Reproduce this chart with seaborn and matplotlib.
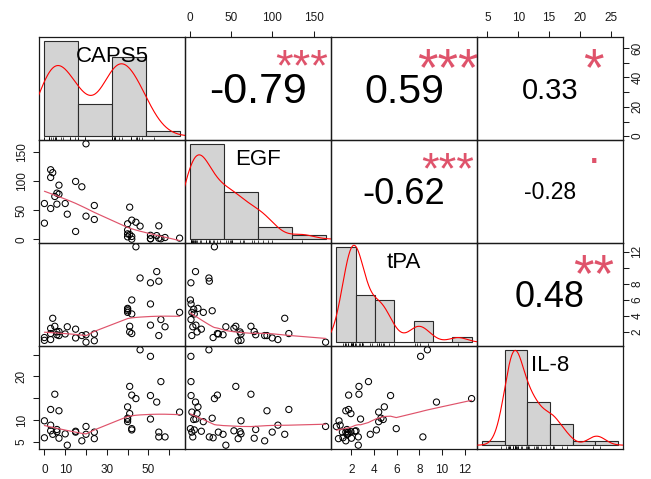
import numpy as np
import pandas as pd
import matplotlib
matplotlib.use("Agg")
import matplotlib.pyplot as plt
import seaborn as sns
from matplotlib.font_manager import FontProperties
from matplotlib.textpath import TextPath, TextToPath
from matplotlib.transforms import offset_copy

# ---------------- data ----------------
caps5 = [44, 46, 51, 51, 51, 54, 55, 55, 56, 58, 65, 40, 40, 40, 40, 41, 41, 42, 42, 42,
         20, 20, 3, 4, 3, 7, 15, 18, 0, 0, 3, 6, 24, 10, 5, 6, 7, 11, 15, 24]
egf = [29.5, 22.8, 0.9, 1.1, 7.0, 6.5, 23.3, 2.0, 1.0, 3.2, 2.1, 9.5, 26.8, 16.0, 4.3, 55.5, 8.4, 0.3, 33.1, 5.0,
       164.7, 40.0, 120.0, 115.0, 106.7, 93.4, 99.8, 90.6, 61.8, 27.9, 53.2, 60.7, 58.4, 61.8, 73.9, 79.7, 77.9, 43.4, 13.6, 34.3]
tpa = [12.6, 8.7, 8.1, 5.45, 2.8, 9.5, 8.3, 1.5, 3.5, 2.6, 4.4, 4.9, 4.6, 4.4, 4.8, 2.66, 1.95, 5.95, 1.75, 4.2,
       0.67, 1.6, 1.75, 3.66, 1.0, 1.5, 1.2, 1.5, 0.9, 1.25, 2.4, 1.95, 0.85, 1.7, 2.66, 1.6, 2.0, 2.6, 2.3, 1.7]
il8 = [14.9, 26.1, 24.6, 15.6, 10.2, 14.1, 6.1, 7.2, 18.8, 6.1, 11.8, 13.0, 10.4, 9.6, 10.1, 17.7, 11.45, 8.0, 15.7, 7.7,
       8.5, 6.7, 12.4, 6.7, 8.8, 12.1, 7.2, 5.2, 9.8, 5.9, 7.5, 7.3, 5.7, 6.8, 15.9, 7.8, 5.8, 4.2, 7.4, 7.2]
names = ["CAPS5", "EGF", "tPA", "IL-8"]

# upper-triangle panels (row, col) with the printed coefficient and stars
cor_pairs = [(0, 1), (0, 2), (0, 3), (1, 2), (1, 3), (2, 3)]
cor_text = ["-0.79", "0.59", "0.33", "-0.62", "-0.28", "0.48"]
cor_stars = ["***", "***", "*", "***", ".", "**"]

caps5_ticks = [0, 10, 20, 30, 40, 50, 60]
caps5_bottom_labels = ["0", "10", "", "30", "", "50", ""]
caps5_right_labels = ["0", "", "20", "", "40", "", "60"]
egf_ticks = [0, 50, 100, 150]
egf_labels = ["0", "50", "100", "150"]
tpa_ticks = [2, 4, 6, 8, 10, 12]
tpa_bottom_labels = ["2", "4", "6", "8", "10", "12"]
tpa_right_labels = ["2", "4", "6", "8", "", "12"]
il8_ticks = [5, 10, 15, 20, 25]
il8_top_labels = ["5", "10", "15", "20", "25"]
il8_left_labels = ["5", "10", "", "20", ""]

# ---------------- style ----------------
FONT = "Liberation Sans"
R_RED = "#DF536B"
sns.set_style("white", rc={"axes.edgecolor": "black", "axes.linewidth": 0.9})
plt.rcParams["font.family"] = [FONT, "DejaVu Sans"]

df = pd.DataFrame({"CAPS5": caps5, "EGF": egf, "tPA": tpa, "IL-8": il8})
DPI = 100
fig = plt.figure(figsize=(6.51, 4.79), dpi=DPI)
gs = fig.add_gridspec(4, 4, left=39 / 651, right=623 / 651, bottom=1 - 449 / 479,
                      top=1 - 37 / 479, wspace=0, hspace=0)
axes = [[fig.add_subplot(gs[i, j]) for j in range(4)] for i in range(4)]


def padded(v, frac=0.04):
    v = np.asarray(v, float)
    lo, hi = v.min(), v.max()
    d = hi - lo
    return lo - frac * d, hi + frac * d


def fd_breaks(v):
    v = np.asarray(v, float)
    q1, q3 = np.percentile(v, [25, 75])
    h = 2 * (q3 - q1)
    dx = v.max() - v.min()
    n = int(np.ceil(dx / (h * len(v) ** (-1 / 3))))
    cell = dx / max(n, 1)
    U = 10 ** np.floor(np.log10(cell))
    unit = U
    if 2 * U - cell < 1.5 * (cell - unit):
        unit = 2 * U
        if 5 * U - cell < 2.75 * (cell - unit):
            unit = 5 * U
            if 10 * U - cell < 1.5 * (cell - unit):
                unit = 10 * U
    lo = np.floor(v.min() / unit + 1e-7) * unit
    hi = np.ceil(v.max() / unit - 1e-7) * unit
    return np.arange(lo, hi + unit / 2, unit), unit


def r_lowess(x, y, f=2 / 3, iters=3):
    x = np.asarray(x, float)
    y = np.asarray(y, float)
    o = np.argsort(x, kind="mergesort")
    x, y = x[o], y[o]
    n = len(x)
    ns = max(min(int(round(f * n)), n), 2)
    rw = np.ones(n)
    fit = np.zeros(n)
    rng = x[-1] - x[0]
    for it in range(iters + 1):
        for i in range(n):
            d = np.abs(x - x[i])
            h = np.sort(d)[ns - 1]
            w = np.zeros(n)
            inside = d <= 0.999 * h
            if h > 0:
                w[inside] = np.where(d[inside] <= 0.001 * h, 1.0, (1 - (d[inside] / h) ** 3) ** 3)
            else:
                w[inside] = 1.0
            w *= rw
            sw = w.sum()
            if sw <= 0:
                fit[i] = y[i]
                continue
            w = w / sw
            if h > 0:
                a = np.sum(w * x)
                c = np.sum(w * (x - a) ** 2)
                if np.sqrt(c) > 0.001 * rng:
                    b = (x[i] - a) / c
                    w = w * (b * (x - a) + 1.0)
            fit[i] = np.sum(w * y)
        if it == iters:
            break
        res = y - fit
        cmad = 6 * np.median(np.abs(res))
        if cmad < 1e-7 * np.mean(np.abs(res)):
            break
        r = np.abs(res)
        rw = np.where(r <= 0.001 * cmad, 1.0,
                      np.where(r > 0.999 * cmad, 0.0, (1 - (r / cmad) ** 2) ** 2))
    return x, fit


ttp = TextToPath()


def em_width(s):
    w, _, _ = ttp.get_text_width_height_descent(s, FontProperties(family=FONT, size=100), ismath=False)
    return w / 100.0


def glyph_mid(s, size):
    tp = TextPath((0, 0), s, size=size, prop=FontProperties(family=FONT))
    ext = tp.get_extents()
    return (ext.y0 + ext.y1) / 2


def centered_text(target_ax, x, y, s, size, color, clip=False):
    tr = offset_copy(target_ax.transAxes, fig=fig, x=0, y=-glyph_mid(s, size), units="points")
    t = target_ax.text(x, y, s, transform=tr, ha="center", va="baseline", fontsize=size,
                       color=color, family=FONT, zorder=10)
    if clip:
        t.set_clip_on(True)
        t.set_clip_path(target_ax.patch)
    return t


lims = [padded(df[nm]) for nm in names]
TL, TW, LS = 4.6, 0.75, 8.5

for i in range(4):
    for j in range(4):
        ax = axes[i][j]
        ax.patch.set_visible(False)
        for sp in ax.spines.values():
            sp.set_linewidth(0.9)
            sp.set_color("#1a1a1a")
        if i > j:
            sns.scatterplot(data=df, x=names[j], y=names[i], ax=ax, facecolor="none",
                            edgecolor="black", linewidth=0.75, s=20, clip_on=False, legend=False)
            lx, ly = r_lowess(df[names[j]], df[names[i]])
            sns.lineplot(x=lx, y=ly, ax=ax, color=R_RED, linewidth=0.85, estimator=None, sort=False)
        elif i == j:
            vals = df[names[i]].to_numpy(float)
            breaks, unit = fd_breaks(vals)
            eps = 1e-6 * unit
            bins = breaks + eps
            bins[0] = breaks[0] - eps
            counts, _ = np.histogram(vals, bins=bins)
            ymax = counts.max() / (len(vals) * unit)
            q1, q3 = np.percentile(vals, [25, 75])
            sd = vals.std(ddof=1)
            bw = 0.9 * min(sd, (q3 - q1) / 1.34) * len(vals) ** (-0.2)
            h = ax.inset_axes([0, 0, 1, 1])
            sns.histplot(x=vals, bins=bins, stat="density", ax=h, color="#D3D3D3",
                         edgecolor="#2b2b2b", linewidth=0.8, alpha=1)
            sns.kdeplot(x=vals, ax=h, bw_method=bw / sd, gridsize=512, cut=3,
                        color="red", linewidth=0.8)
            sns.rugplot(x=vals, ax=h, height=0.03, color="black", linewidth=0.5)
            span = breaks[-1] - breaks[0]
            h.set_xlim(breaks[0] - 0.04 * span, breaks[-1] + 0.04 * span)
            h.set_ylim(-0.04 * ymax, 1.04 * ymax)
            h.set_axis_off()
            centered_text(h, 0.5, 0.5 + 1 / 3, names[i], 16, "black")
        ax.set_xlim(lims[j])
        ax.set_ylim(lims[i])
        ax.set_xlabel("")
        ax.set_ylabel("")
        ax.tick_params(which="both", bottom=False, top=False, left=False, right=False,
                       labelbottom=False, labeltop=False, labelleft=False, labelright=False)

# upper panels: coefficients and significance stars
STAR_GLYPH_SCALE = 0.88
for (i, j), txt, star in zip(cor_pairs, cor_text, cor_stars):
    ax = axes[i][j]
    pw = ax.get_position().width * fig.get_figwidth() * DPI
    r = abs(float(txt))
    base_em_px = 0.8 * pw / em_width(txt)
    corr_size = base_em_px * (r + 0.3) / 1.3 * 72 / DPI
    star_size = base_em_px * 72 / DPI * STAR_GLYPH_SCALE
    centered_text(ax, 0.5, 0.5, txt, corr_size, "black", clip=True)
    centered_text(ax, 0.8, 0.8, star, star_size, R_RED, clip=True)

common = dict(direction="out", length=TL, width=TW, labelsize=LS, colors="#1a1a1a")

# bottom axes
for ax, ticks, labels in [(axes[3][0], caps5_ticks, caps5_bottom_labels),
                          (axes[3][2], tpa_ticks, tpa_bottom_labels)]:
    ax.set_xticks(ticks, labels=labels)
    ax.tick_params(axis="x", bottom=True, labelbottom=True, pad=6.0, **common)
# top axes
for ax, ticks, labels in [(axes[0][1], egf_ticks, egf_labels),
                          (axes[0][3], il8_ticks, il8_top_labels)]:
    ax.set_xticks(ticks, labels=labels)
    ax.tick_params(axis="x", top=True, labeltop=True, pad=4.5, **common)
# left axes
for ax, ticks, labels in [(axes[1][0], egf_ticks, egf_labels),
                          (axes[3][0], il8_ticks, il8_left_labels)]:
    ax.set_yticks(ticks, labels=labels, rotation=90, va="center")
    ax.tick_params(axis="y", left=True, labelleft=True, pad=3.5, **common)
# right axes
for ax, ticks, labels in [(axes[0][3], caps5_ticks, caps5_right_labels),
                          (axes[2][3], tpa_ticks, tpa_right_labels)]:
    ax.set_yticks(ticks, labels=labels, rotation=90, va="center")
    ax.tick_params(axis="y", right=True, labelright=True, pad=1.5, **common)

for i in range(4):
    for j in range(4):
        axes[i][j].set_xlim(lims[j])
        axes[i][j].set_ylim(lims[i])

fig.savefig("out.png", dpi=DPI, facecolor="white")
